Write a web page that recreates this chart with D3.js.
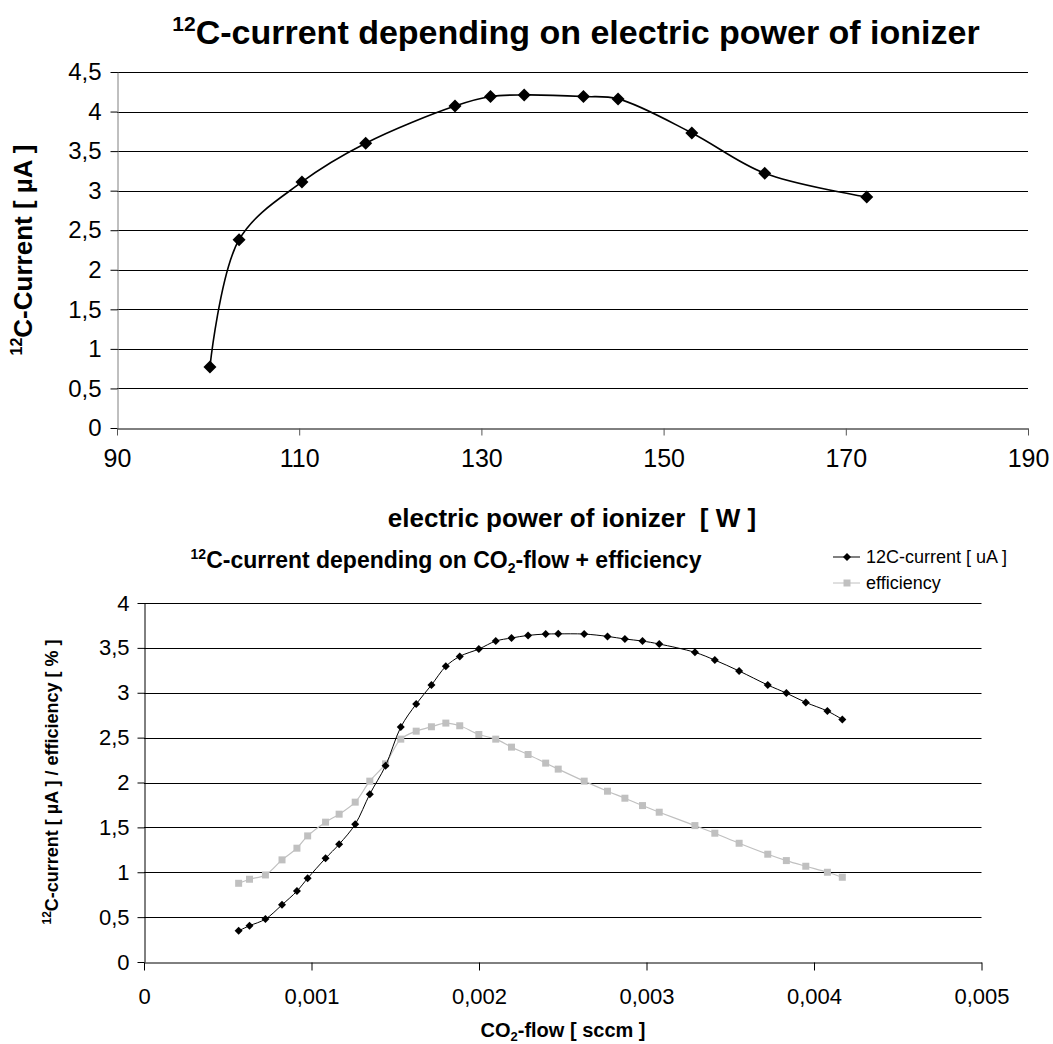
<!DOCTYPE html>
<html><head><meta charset="utf-8">
<script src="https://cdn.jsdelivr.net/npm/d3@7/dist/d3.min.js"></script>
<style>
body{margin:0;background:#fff;}
svg{display:block;font-family:"Liberation Sans",Arial,sans-serif;}
</style>
</head><body>
<svg id="c" width="1053" height="1044"></svg>
<script>
// ---------- data: top chart ----------
const powerW      = [100.2, 103.4, 110.3, 117.3, 127.1, 131.0, 134.7, 141.2, 145.0, 153.1, 161.1, 172.3];
const currentTop  = [0.77, 2.38, 3.11, 3.60, 4.07, 4.19, 4.21, 4.19, 4.16, 3.73, 3.22, 2.92];
const topXTicks   = [90, 110, 130, 150, 170, 190];
const topYTicks   = [0, 0.5, 1, 1.5, 2, 2.5, 3, 3.5, 4, 4.5];
const topYLabels  = ["0", "0,5", "1", "1,5", "2", "2,5", "3", "3,5", "4", "4,5"];

// ---------- data: bottom chart ----------
const co2Flow = [0.000565, 0.000630, 0.000725, 0.000824, 0.000913, 0.000977, 0.001084, 0.001165, 0.001261, 0.001348,
                 0.001442, 0.001533, 0.001625, 0.001716, 0.001802, 0.001885, 0.001999, 0.002100, 0.002194, 0.002293,
                 0.002398, 0.002473, 0.002628, 0.002767, 0.002871, 0.002976, 0.003076, 0.003289, 0.003408, 0.003553,
                 0.003724, 0.003835, 0.003951, 0.004080, 0.004169];
const currentBottom = [0.348, 0.404, 0.478, 0.637, 0.79, 0.933, 1.156, 1.312, 1.535, 1.870,
                       2.186, 2.617, 2.874, 3.086, 3.294, 3.405, 3.487, 3.576, 3.610, 3.639,
                       3.654, 3.656, 3.654, 3.628, 3.599, 3.576, 3.543, 3.450, 3.364, 3.242,
                       3.086, 2.996, 2.892, 2.796, 2.703];
const efficiency = [0.877, 0.922, 0.970, 1.138, 1.268, 1.405, 1.558, 1.647, 1.781, 2.015,
                    2.208, 2.483, 2.572, 2.621, 2.662, 2.632, 2.535, 2.483, 2.394, 2.312,
                    2.216, 2.149, 2.015, 1.903, 1.825, 1.743, 1.669, 1.520, 1.435, 1.323,
                    1.201, 1.130, 1.067, 1.000, 0.944];
const bottomXTicks  = [0, 0.001, 0.002, 0.003, 0.004, 0.005];
const bottomXLabels = ["0", "0,001", "0,002", "0,003", "0,004", "0,005"];
const bottomYTicks  = [0, 0.5, 1, 1.5, 2, 2.5, 3, 3.5, 4];
const bottomYLabels = ["0", "0,5", "1", "1,5", "2", "2,5", "3", "3,5", "4"];
const legendNames   = ["12C-current [ uA ]", "efficiency"];

const svg = d3.select("#c");
const diamond = r => `M0,${-r}L${r},0L0,${r}L${-r},0Z`;
const square = s => `M${-s},${-s}H${s}V${s}H${-s}Z`;

// ================= TOP CHART =================
const tx = d3.scaleLinear().domain([90, 190]).range([117, 1028]);
const ty = d3.scaleLinear().domain([0, 4.5]).range([428, 72]);
const gt = svg.append("g");

gt.selectAll("line.grid").data(topYTicks.filter(d => d > 0)).join("line")
  .attr("x1", tx(90)).attr("x2", tx(190))
  .attr("y1", d => Math.round(ty(d)) + 0.5).attr("y2", d => Math.round(ty(d)) + 0.5)
  .attr("stroke", "#000").attr("stroke-width", 1);

const tyAxis = gt.append("g").attr("transform", `translate(${Math.round(tx(90)) + 0.5},0)`)
  .call(d3.axisLeft(ty).tickValues(topYTicks).tickFormat((d, i) => topYLabels[i]).tickSize(7).tickPadding(9).tickSizeOuter(0));
tyAxis.select(".domain").attr("stroke", "#808080");
tyAxis.selectAll(".tick line").attr("stroke", "#000");
tyAxis.selectAll("text").attr("font-size", 24).attr("fill", "#000").attr("font-family", "Liberation Sans, Arial");

const txAxis = gt.append("g").attr("transform", `translate(0,${Math.round(ty(0)) + 0.5})`)
  .call(d3.axisBottom(tx).tickValues(topXTicks).tickSize(7).tickPadding(14).tickSizeOuter(0));
txAxis.select(".domain").attr("stroke", "#000");
txAxis.selectAll(".tick line").attr("stroke", "#555");
txAxis.selectAll("text").attr("font-size", 25).attr("fill", "#000").attr("font-family", "Liberation Sans, Arial");

const topPts = powerW.map((x, i) => [x, currentTop[i]]);
gt.append("path").datum(topPts)
  .attr("d", d3.line().x(d => tx(d[0])).y(d => ty(d[1])).curve(d3.curveCatmullRom.alpha(0.5)))
  .attr("fill", "none").attr("stroke", "#000").attr("stroke-width", 1.6);
gt.selectAll("path.mk").data(topPts).join("path")
  .attr("transform", d => `translate(${tx(d[0])},${ty(d[1])})`)
  .attr("d", diamond(6.5)).attr("fill", "#000");

const t1 = svg.append("text").attr("x", 576).attr("y", 44).attr("text-anchor", "middle")
  .attr("font-weight", "bold").attr("font-size", 34);
t1.append("tspan").attr("font-size", 21).attr("dy", -13).text("12");
t1.append("tspan").attr("dy", 13).text("C-current depending on electric power of ionizer");

svg.append("text").attr("x", 572).attr("y", 527).attr("text-anchor", "middle")
  .attr("font-weight", "bold").attr("font-size", 26).attr("xml:space", "preserve")
  .text("electric power of ionizer  [ W ]");

const yt1 = svg.append("text").attr("transform", "translate(32,250) rotate(-90)").attr("text-anchor", "middle")
  .attr("font-weight", "bold").attr("font-size", 26);
yt1.append("tspan").attr("font-size", 16).attr("dy", -10).text("12");
yt1.append("tspan").attr("dy", 10).text("C-Current [ µA ]");

// ================= BOTTOM CHART =================
const bx = d3.scaleLinear().domain([0, 0.005]).range([144, 981.5]);
const by = d3.scaleLinear().domain([0, 4]).range([962, 603]);
const gb = svg.append("g");

gb.selectAll("line.grid").data(bottomYTicks.filter(d => d > 0)).join("line")
  .attr("x1", bx(0)).attr("x2", bx(0.005))
  .attr("y1", d => Math.round(by(d)) + 0.5).attr("y2", d => Math.round(by(d)) + 0.5)
  .attr("stroke", "#000").attr("stroke-width", 1);

const byAxis = gb.append("g").attr("transform", `translate(${Math.round(bx(0)) + 0.5},0)`)
  .call(d3.axisLeft(by).tickValues(bottomYTicks).tickFormat((d, i) => bottomYLabels[i]).tickSize(7).tickPadding(8).tickSizeOuter(0));
byAxis.select(".domain").attr("stroke", "#000");
byAxis.selectAll("text").attr("font-size", 22).attr("fill", "#000").attr("font-family", "Liberation Sans, Arial");

const bxAxis = gb.append("g").attr("transform", `translate(0,${Math.round(by(0)) + 0.5})`)
  .call(d3.axisBottom(bx).tickValues(bottomXTicks).tickFormat((d, i) => bottomXLabels[i]).tickSize(8).tickPadding(18).tickSizeOuter(0));
bxAxis.select(".domain").attr("stroke", "#000");
bxAxis.selectAll("text").attr("font-size", 22).attr("fill", "#000").attr("font-family", "Liberation Sans, Arial");

const curPts = co2Flow.map((x, i) => [x, currentBottom[i]]);
const effPts = co2Flow.map((x, i) => [x, efficiency[i]]);
const lineB = d3.line().x(d => bx(d[0])).y(d => by(d[1])).curve(d3.curveCatmullRom.alpha(0.5));

gb.append("path").datum(effPts).attr("d", lineB).attr("fill", "none").attr("stroke", "#c0c0c0").attr("stroke-width", 1.2);
gb.selectAll("path.sq").data(effPts).join("path")
  .attr("transform", d => `translate(${bx(d[0])},${by(d[1])})`)
  .attr("d", square(3.5)).attr("fill", "#c0c0c0");

gb.append("path").datum(curPts).attr("d", lineB).attr("fill", "none").attr("stroke", "#000").attr("stroke-width", 1);
gb.selectAll("path.dm").data(curPts).join("path")
  .attr("transform", d => `translate(${bx(d[0])},${by(d[1])})`)
  .attr("d", diamond(4)).attr("fill", "#000");

const t2 = svg.append("text").attr("x", 446).attr("y", 568).attr("text-anchor", "middle")
  .attr("font-weight", "bold").attr("font-size", 23);
t2.append("tspan").attr("font-size", 14).attr("dy", -9).text("12");
t2.append("tspan").attr("dy", 9).text("C-current depending on CO");
t2.append("tspan").attr("font-size", 14).attr("dy", 5).text("2");
t2.append("tspan").attr("dy", -5).text("-flow + efficiency");

const xt2 = svg.append("text").attr("x", 563).attr("y", 1037).attr("text-anchor", "middle")
  .attr("font-weight", "bold").attr("font-size", 20);
xt2.append("tspan").text("CO");
xt2.append("tspan").attr("font-size", 13).attr("dy", 4).text("2");
xt2.append("tspan").attr("dy", -4).text("-flow [ sccm ]");

const yt2 = svg.append("text").attr("transform", "translate(58,782) rotate(-90)").attr("text-anchor", "middle")
  .attr("font-weight", "bold").attr("font-size", 18);
yt2.append("tspan").attr("font-size", 12).attr("dy", -7).text("12");
yt2.append("tspan").attr("dy", 7).text("C-current [ µA ] / efficiency [ % ]");

const lg = svg.append("g");
const legY = [557, 583];
lg.append("line").attr("x1", 833).attr("x2", 860).attr("y1", legY[0]).attr("y2", legY[0]).attr("stroke", "#000");
lg.append("path").attr("transform", `translate(847,${legY[0]})`).attr("d", diamond(4)).attr("fill", "#000");
lg.append("line").attr("x1", 833).attr("x2", 860).attr("y1", legY[1]).attr("y2", legY[1]).attr("stroke", "#c0c0c0");
lg.append("path").attr("transform", `translate(847,${legY[1]})`).attr("d", square(3.5)).attr("fill", "#c0c0c0");
lg.selectAll("text").data(legendNames).join("text")
  .attr("x", 866).attr("y", (d, i) => legY[i]).attr("dy", "0.35em")
  .attr("font-size", 18).attr("fill", "#000").text(d => d);
</script>
</body></html>
